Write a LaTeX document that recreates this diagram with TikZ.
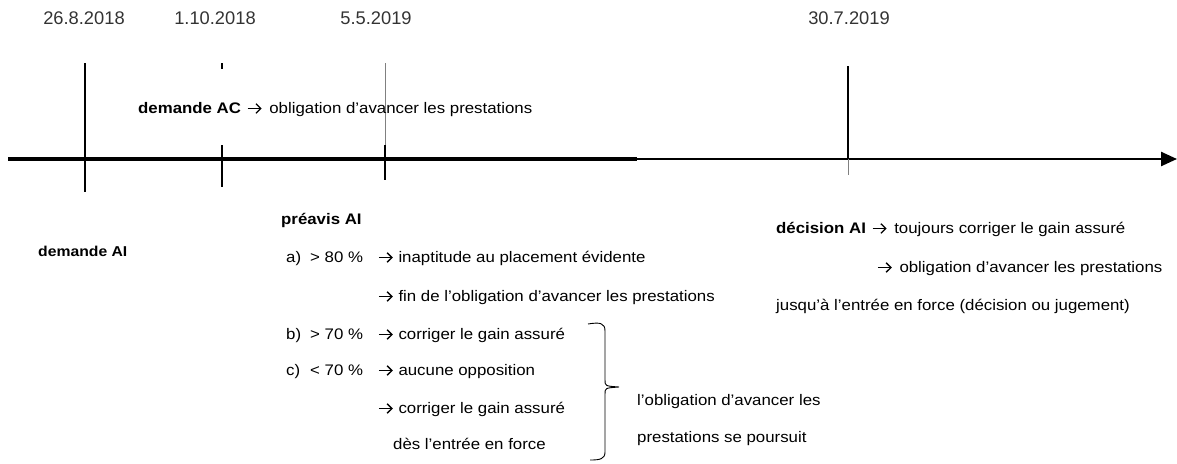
\documentclass[tikz,border=0pt]{standalone}
\usepackage{fontspec}
\setmainfont{Liberation Sans}[FakeStretch=1.1]
\newfontfamily\datefont{Liberation Sans}
\usetikzlibrary{arrows.meta}
\newcommand{\myarr}{\tikz[baseline=-4.5pt]\draw[line width=1.3pt,-{Straight Barb[length=4.8pt,width=9.5pt,line width=1.3pt]}] (0pt,0pt) -- (14pt,0pt);}
\begin{document}
\begin{tikzpicture}[x=1pt,y=-1pt,
  txt/.style={anchor=base west,inner sep=0pt,font=\fontsize{15.3}{18}\selectfont},
  date/.style={anchor=base,inner sep=0pt,font=\datefont\fontsize{18.3}{21}\selectfont,text=black!80},
  tick/.style={line width=2pt},
  faint/.style={line width=1pt,gray}]
\useasboundingbox (0,0) rectangle (1177,463);
% dates
\node[date] (d1) at (84,24) {26.8.2018};
\node[date] (d2) at (215,24) {1.10.2018};
\node[date] (d3) at (376,24) {5.5.2019};
\node[date] (d4) at (849,24) {30.7.2019};
% axis
\coordinate (a0) at (8,159);
\coordinate (am) at (637,159);
\coordinate (a1) at (1177,159);
\draw[line width=3.2pt] (a0) -- (am);
\draw[line width=2.4pt,-{Triangle[length=16pt,width=14pt]}] (am) -- (a1);
% ticks
\draw[tick] (85,63) -- (85,192);
\draw[tick] (222,63) -- (222,69);
\draw[tick] (222,145) -- (222,187);
\draw[faint] (385,63) -- (385,145);
\draw[tick] (385,145) -- (385,180);
\draw[tick] (848,66) -- (848,159);
\draw[faint] (848,159) -- (848,175);
% texts
\node[txt] (ac) at (138,113) {\textbf{demande AC}\hspace{6pt}\myarr\hspace{7pt}obligation d’avancer les prestations};
\node[txt] (pre) at (281,224) {\textbf{préavis AI}};
\node[txt,font=\fontsize{14.3}{17}\selectfont] (dai) at (38,256) {\textbf{demande AI}};
\node[txt] (la) at (286,262) {a)};
\node[txt] (pa) at (310,262) {> 80 \%};
\node[txt] (ta) at (378,262) {\myarr\hspace{5pt}inaptitude au placement évidente};
\node[txt] (ta2) at (378,301) {\myarr\hspace{5pt}fin de l’obligation d’avancer les prestations};
\node[txt] (lb) at (286,339) {b)};
\node[txt] (pb) at (310,339) {> 70 \%};
\node[txt] (tb) at (378,339) {\myarr\hspace{5pt}corriger le gain assuré};
\node[txt] (lc) at (286,375) {c)};
\node[txt] (pc) at (310,375) {< 70 \%};
\node[txt] (tc) at (378,375) {\myarr\hspace{5pt}aucune opposition};
\node[txt] (tc2) at (378,413) {\myarr\hspace{5pt}corriger le gain assuré};
\node[txt] (tc3) at (393,449) {dès l’entrée en force};
\node[txt] (ob1) at (637,405) {l’obligation d’avancer les};
\node[txt] (ob2) at (637,442) {prestations se poursuit};
\node[txt] (dec) at (776,233) {\textbf{décision AI}\hspace{6pt}\myarr\hspace{7pt}toujours corriger le gain assuré};
\node[txt] (dec2) at (877,272) {\myarr\hspace{7pt}obligation d’avancer les prestations};
\node[txt] (dec3) at (776,310) {jusqu’à l’entrée en force (décision ou jugement)};
% brace
\draw[line width=0.9pt] (588,324) .. controls (600,322) and (605,323) .. (605,331)
  -- (605,380) .. controls (605,386) .. (619,387)
  .. controls (605,388) .. (605,394) -- (605,452)
  .. controls (605,459) and (600,460) .. (590,460);
\end{tikzpicture}
\end{document}
